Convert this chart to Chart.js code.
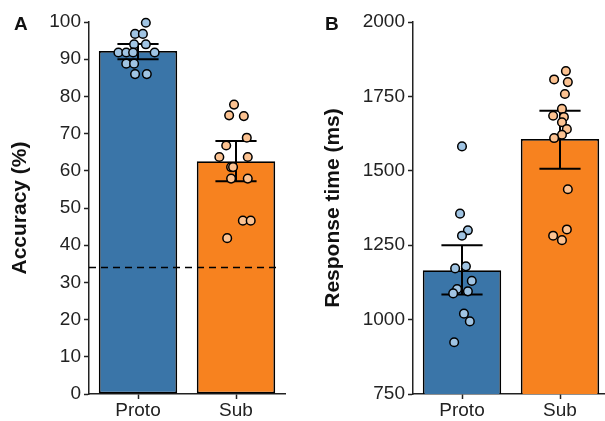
<!DOCTYPE html>
<html>
<head>
<meta charset="utf-8">
<script src="https://cdn.jsdelivr.net/npm/chart.js@4"></script>
<style>
  html, body { margin: 0; padding: 0; background: #fff; overflow: hidden; }
  #wrap { position: relative; width: 605px; height: 421px; overflow: hidden; }
  canvas { position: absolute; top: 0; }
  #chartA { left: 0; }
  #chartB { left: 310px; }
  .letter { position: absolute; font: bold 19px "Liberation Sans", Arial, sans-serif; line-height: 1; color: #111; }
</style>
</head>
<body>
<div id="wrap">
  <canvas id="chartA" width="300" height="421"></canvas>
  <canvas id="chartB" width="310" height="421"></canvas>
  <div class="letter" style="left:14px;top:14px">A</div>
  <div class="letter" style="left:325px;top:14px">B</div>
</div>
<script>
'use strict';

const categories = ['Proto', 'Sub'];

// panel A: accuracy (%)
const accMeans = [92.2, 62.6];
const accLower = [90.0, 57.2];
const accUpper = [94.1, 68.0];
const accChance = 34;
const accProto = [99.8, 96.8, 96.8, 94.0, 94.0, 91.8, 91.8, 91.8, 91.8, 88.8, 88.8, 86.0, 86.0];
const accProtoJitter = [0.08, -0.03, 0.05, -0.04, 0.08, -0.2, -0.12, -0.05, 0.17, -0.12, -0.04, -0.03, 0.09];
const accSub = [77.8, 74.9, 74.7, 68.9, 66.8, 63.7, 63.7, 61.0, 61.0, 57.9, 57.9, 46.6, 46.6, 41.9];
const accSubJitter = [-0.02, -0.07, 0.08, 0.11, -0.1, -0.17, 0.12, -0.05, -0.03, -0.05, 0.12, 0.07, 0.15, -0.09];
const accTicks = [0, 10, 20, 30, 40, 50, 60, 70, 80, 90, 100];

// panel B: response time (ms)
const rtMeans = [1166, 1607];
const rtLower = [1084, 1507];
const rtUpper = [1250, 1702];
const rtProto = [1582, 1356, 1300, 1282, 1172, 1179, 1130, 1103, 1088, 1095, 1020, 994, 924];
const rtProtoJitter = [0, -0.02, 0.06, 0, -0.07, 0.04, 0.1, -0.05, -0.09, 0.06, 0.02, 0.08, -0.08];
const rtSub = [1835, 1807, 1798, 1758, 1708, 1685, 1681, 1663, 1640, 1621, 1610, 1438, 1303, 1282, 1267];
const rtSubJitter = [0.06, -0.06, 0.08, 0.05, 0.02, -0.07, 0.04, 0.02, 0.07, 0.02, -0.06, 0.08, 0.07, -0.07, 0.02];
const rtTicks = [750, 1000, 1250, 1500, 1750, 2000];

const barColors = ['#3a75a8', '#f7821f'];
const dotColors = ['#a0c4e3', '#fcc291'];
const axisColor = '#222';
const fontFamily = '"Liberation Sans", Arial, Helvetica, sans-serif';

Chart.defaults.font.family = fontFamily;
Chart.defaults.color = axisColor;

// error bars (and the chance line) drawn right after the bars, under the dots
const errorBars = {
  id: 'errorBars',
  afterDatasetDraw(chart, args, opts) {
    if (args.index !== 0) return;
    const x = chart.scales.x, y = chart.scales.y, ctx = chart.ctx;
    ctx.save();
    ctx.strokeStyle = '#000';
    ctx.lineWidth = 2;
    opts.lower.forEach((lo, i) => {
      const cx = x.getPixelForValue(i);
      const left = x.getPixelForValue(i - 0.21), right = x.getPixelForValue(i + 0.21);
      const y0 = y.getPixelForValue(lo), y1 = y.getPixelForValue(opts.upper[i]);
      ctx.beginPath();
      ctx.moveTo(cx, y0); ctx.lineTo(cx, y1);
      ctx.moveTo(left, y0); ctx.lineTo(right, y0);
      ctx.moveTo(left, y1); ctx.lineTo(right, y1);
      ctx.stroke();
    });
    if (opts.chance != null) {
      const cy = y.getPixelForValue(opts.chance);
      ctx.setLineDash([7, 5]);
      ctx.lineWidth = 1.5;
      ctx.beginPath();
      ctx.moveTo(chart.chartArea.left, cy);
      ctx.lineTo(chart.chartArea.right - 5, cy);
      ctx.stroke();
    }
    ctx.restore();
  }
};

function makePanel(id, p) {
  const points = [], pointColors = [];
  p.groups.forEach((vals, g) => {
    vals.forEach((v, k) => {
      points.push({ x: g + p.jitters[g][k], y: v });
      pointColors.push(dotColors[g]);
    });
  });

  return new Chart(document.getElementById(id), {
    type: 'bar',
    data: {
      datasets: [
        {
          type: 'bar',
          data: p.means.map((v, i) => ({ x: i, y: v })),
          backgroundColor: barColors,
          borderColor: '#000',
          borderWidth: 1.8,
          borderSkipped: false,
          barPercentage: 0.8,
          categoryPercentage: 1,
          order: 2
        },
        {
          type: 'scatter',
          data: points,
          pointBackgroundColor: pointColors,
          pointBorderColor: '#000',
          pointBorderWidth: 1.5,
          pointRadius: 4.3,
          clip: false,
          order: 1
        }
      ]
    },
    options: {
      responsive: false,
      animation: false,
      layout: { padding: { top: 22, right: p.padRight, bottom: 0, left: 0 } },
      plugins: {
        legend: { display: false },
        tooltip: { enabled: false },
        errorBars: { lower: p.lower, upper: p.upper, chance: p.chance }
      },
      scales: {
        x: {
          type: 'linear',
          min: -0.5,
          max: 1.5,
          offset: false,
          afterBuildTicks: s => { s.ticks = categories.map((c, i) => ({ value: i })); },
          afterFit: s => { s.height = 27; },
          ticks: { callback: v => categories[v], font: { size: 19, lineHeight: 1 }, color: axisColor, padding: 2 },
          grid: { display: true, offset: false, drawOnChartArea: false, tickLength: 5, tickWidth: 1.5, color: axisColor },
          border: { display: true, color: axisColor, width: 1.5 }
        },
        y: {
          min: p.ticks[0],
          max: p.ticks[p.ticks.length - 1],
          afterBuildTicks: s => { s.ticks = p.ticks.map(v => ({ value: v })); },
          afterFit: s => { s.width = p.axisWidth; },
          ticks: { callback: v => String(v), font: { size: 19 }, color: axisColor, padding: 3 },
          grid: { display: true, drawOnChartArea: false, tickLength: 5, tickWidth: 1.5, color: axisColor },
          border: { display: true, color: axisColor, width: 1.5 },
          title: {
            display: true,
            text: p.title,
            font: { size: 21, weight: 'bold' },
            color: '#111',
            padding: { top: p.titlePad, bottom: 0 }
          }
        }
      }
    },
    plugins: [errorBars]
  });
}

makePanel('chartA', {
  means: accMeans, lower: accLower, upper: accUpper, chance: accChance,
  groups: [accProto, accSub], jitters: [accProtoJitter, accSubJitter],
  ticks: accTicks, title: 'Accuracy (%)',
  axisWidth: 89, titlePad: 8, padRight: 15
});

makePanel('chartB', {
  means: rtMeans, lower: rtLower, upper: rtUpper, chance: null,
  groups: [rtProto, rtSub], jitters: [rtProtoJitter, rtSubJitter],
  ticks: rtTicks, title: 'Response time (ms)',
  axisWidth: 103, titlePad: 11, padRight: 11
});
</script>
</body>
</html>
